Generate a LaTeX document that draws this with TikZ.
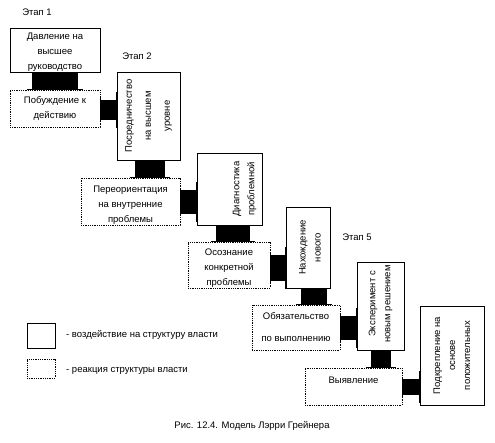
\documentclass[tikz,border=0pt]{standalone}
\usepackage{fontspec}
\setmainfont{Liberation Sans}
\usepackage{tikz}

\begin{document}
\begin{tikzpicture}[x=1pt, y=-1pt,
		every node/.style={font=\fontsize{9.5}{15}\selectfont},
		solidbox/.style={draw, line width=.8pt, inner sep=0pt},
		dotbox/.style={draw, densely dotted, line width=.8pt, inner sep=0pt},
		txt/.style={align=center, inner sep=0pt},
		rtxt/.style={txt, rotate=90}]
				\useasboundingbox (0,0) rectangle (495,442);
				% stages
				\node[txt] (s1) at (37,12) {Этап 1};
				\node[txt] (s2) at (137,56) {Этап 2};
				\node[txt] (s5) at (357,237) {Этап 5};
				% action boxes
				\node[solidbox, minimum width=90, minimum height=44] (b1) at (55,50) {};
				\node[solidbox, minimum width=63, minimum height=88] (b2) at (148.5,116) {};
				\node[solidbox, minimum width=65, minimum height=72] (b3) at (229.5,189) {};
				\node[solidbox, minimum width=44, minimum height=81] (b4) at (308,247.5) {};
				\node[solidbox, minimum width=47, minimum height=88] (b5) at (380.5,306) {};
				\node[solidbox, minimum width=64, minimum height=99] (b6) at (452,355.5) {};
				% reaction boxes
				\node[dotbox, minimum width=90, minimum height=37] (r1) at (55,108.5) {};
				\node[dotbox, minimum width=99, minimum height=47] (r2) at (130.5,201.5) {};
				\node[dotbox, minimum width=82, minimum height=46] (r3) at (229,265) {};
				\node[dotbox, minimum width=88, minimum height=45] (r4) at (296,327.5) {};
				\node[dotbox, minimum width=97, minimum height=37] (r5) at (353.5,386.5) {};
				% texts
				\node[txt] (t1) at ([yshift=-2]b1.center) {Давление на\\высшее\\руководство};
				\node[txt] (t2) at (r1) {Побуждение к\\действию};
				\node[rtxt, font=\fontsize{9.5}{19}\selectfont] (t3) at (b2) {Посредничество\\на высшем\\уровне};
				\node[txt] (t4) at ([yshift=-4]r2.center) {Переориентация\\на внутренние\\проблемы};
				\node[rtxt] (t5) at ([xshift=15]b3.center) {Диагностика\\проблемной};
				\node[txt] (t6) at ([yshift=-3]r3.center) {Осознание\\конкретной\\проблемы};
				\node[rtxt] (t7) at ([xshift=2]b4.center) {Нахождение\\нового};
				\node[txt] (t8) at (r4) {Обязательство\\[7pt]по выполнению};
				\node[rtxt] (t9) at ([yshift=2]b5.center) {Эксперимент с\\новым решением};
				\node[txt] (t10) at ([yshift=6]r5.center) {Выявление};
				\node[rtxt] (t11) at (b6) {Подкрепление на\\основе\\положительных};
				% links down
				\foreach \a/\b/\w/\s in {b1/r1/23/0, b2/r2/15/1, b3/r3/17/3, b4/r4/13/6, b5/r5/10/0} {
					\coordinate (p) at ([xshift=\s]\a.south);
					\coordinate (q) at (p |- \b.north);
					\fill ([xshift=-\w]p) rectangle ([xshift=\w]q);
					\draw[line width=1.2pt] ([xshift=-\w-2]p) -- ([xshift=\w+2]p);
					\draw[line width=1.2pt] ([xshift=-\w-5]q) -- ([xshift=\w+5]q);
				}
				% links right
				\foreach \a/\b/\w/\s in {r1/b2/10/-1.5, r2/b3/12/0, r3/b4/13/-3, r4/b5/12/0, r5/b6/8/0} {
					\coordinate (p) at ([yshift=\s]\a.east);
					\coordinate (q) at (p -| \b.west);
					\fill ([yshift=-\w]p) rectangle ([yshift=\w]q);
					\draw[line width=1.2pt] ([yshift=-\w-2]p) -- ([yshift=\w+2]p);
					\draw[line width=1.6pt] ([yshift=-\w-8]q) -- ([yshift=\w+8]q);
				}
				% legend
				\node[solidbox, minimum width=28, minimum height=25] (l1) at (41,335.5) {};
				\node[dotbox, minimum width=28, minimum height=19] (l2) at (41,368.5) {};
				\node[txt, anchor=west] (lt1) at (66,335) {- воздействие на структуру власти};
				\node[txt, anchor=west] (lt2) at (66,371) {- реакция структуры власти};
				% caption
				\node[txt] (cap) at (252,426) {Рис. 12.4. Модель Лэрри Грейнера};
			\end{tikzpicture}
\end{document}
